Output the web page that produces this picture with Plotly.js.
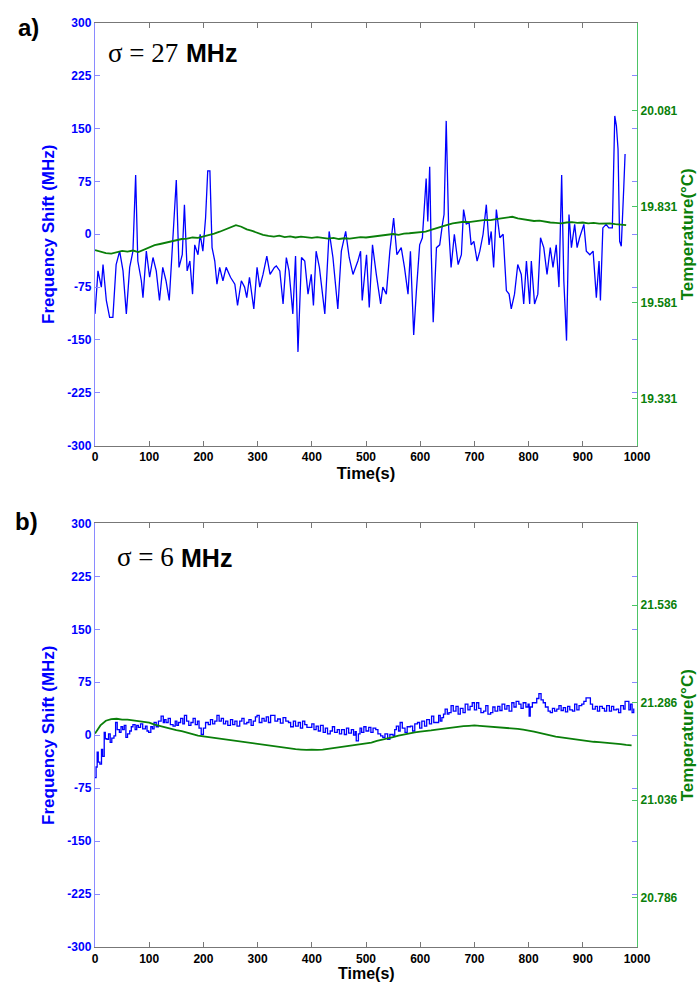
<!DOCTYPE html>
<html>
<head>
<meta charset="utf-8">
<script src="https://cdn.plot.ly/plotly-3.0.1.min.js"></script>
<style>
html,body{margin:0;padding:0;background:#fff;}
#chart{width:697px;height:982px;}
</style>
</head>
<body>
<div id="chart"></div>
<script>
// ---------- Panel a) ----------
const timeFreqA = [0,5.5,11.7,14.8,20.9,27,33,39,45.5,51.7,57.8,64,70,75,79,85.5,88.5,94.7,100.8,107,113,119,125,131,137,144,150,155,161,165,170,175,180,184,190,194,199,204,208,212,216,221,225,230,236,242,250,258,263,270,276,280,285,293,299,304,310,317,323,331,334.5,341,347,353,358,365,370,374.5,381,387,393,399,403,408,414,424,432,439,448,454.5,462.5,469,476,485,490,493,501,506,512,519,527,531,537.5,544,551,557,565,571,577.5,582,588,593,599,604,608,611,614,617.5,620.5,624,630,636,641,644,648,652.5,657,663,670,676,680,685,690,694,699,705,710,716,722,727,731,735.5,740.5,747,753,759,764,768,774,780,786.5,791,796,802,805,811,817,822,828,834,840,845,851,856,861,865,870,874.5,879,885,889.5,894,902,906.5,913,919,925,930,932.5,937,943,948,954.5,959,962,965,968,971,975.5,978];
const freqShiftA = [-113,-52,-75,-43,-94,-118,-118,-43,-24,-52,-113,-47,-24,84,-38,-66,-90,-24,-61,-33,-52,-94,-47,-66,-94,4,77,-47,-29,42,-52,-38,-85,-15,-29,0,-24,23,90,90,-19,-38,-71,-47,-66,-47,-61,-71,-101,-66,-75,-90,-61,-106,-47,-75,-57,-31,-57,-47,-45,-52,-99,-33,-52,-113,-31,-167,-33,-38,-85,-57,-101,-24,-47,-113,4,-33,-106,-24,4,-33,-57,-38,-24,-94,-29,-104,-15,-57,-99,-75,-85,-24,23,-29,-19,-47,-85,-24,-143,-80,-15,-5,46,79,18,96,-29,-125,-19,-15,14,28,161,9,-47,0,-43,-29,35,14,18,-15,-10,-38,-24,0,42,-15,4,-47,35,-5,0,-80,-85,-106,-85,-43,-57,-99,-38,-99,-38,-99,-85,-5,-19,-57,-19,-47,-15,-75,84,-66,-151,28,-19,14,-19,-5,14,-24,-29,-24,-90,-38,-94,9,14,9,9,168,154,121,-10,-17,65,114];
const timeTempA = [0,10,20,30,40,50,60,70,80,90,100,110,120,130,140,150,160,170,180,190,200,210,220,230,240,250,260,270,280,290,300,310,320,330,340,350,360,370,380,390,400,410,420,430,440,450,460,470,480,490,500,510,520,530,540,550,560,570,580,590,600,610,620,630,640,650,660,670,680,690,700,710,720,730,740,750,760,770,780,790,800,810,820,830,840,850,860,870,880,890,900,910,920,930,940,950,960,970,980];
const tempA = [19.718,19.714,19.710,19.709,19.713,19.716,19.714,19.717,19.713,19.719,19.726,19.731,19.734,19.737,19.741,19.743,19.747,19.748,19.751,19.750,19.754,19.756,19.761,19.766,19.772,19.778,19.783,19.779,19.772,19.768,19.762,19.758,19.755,19.753,19.756,19.752,19.754,19.751,19.753,19.752,19.750,19.752,19.749,19.748,19.750,19.747,19.749,19.748,19.750,19.752,19.751,19.753,19.754,19.756,19.758,19.760,19.758,19.761,19.762,19.763,19.764,19.766,19.771,19.776,19.780,19.784,19.788,19.790,19.792,19.791,19.794,19.795,19.797,19.796,19.799,19.801,19.803,19.805,19.801,19.799,19.796,19.794,19.795,19.792,19.790,19.789,19.788,19.790,19.791,19.789,19.790,19.788,19.789,19.787,19.788,19.788,19.786,19.785,19.783];
const tempTicksA = ['19.331','19.581','19.831','20.081'];

// ---------- Panel b) ----------
const timeFreqB = [0,2,4,6,9,12,14,17,19,22,25,28,31,35,38,41,45,48,51,54,57,60,64,67,70,74,77,80,84,88,93,96,99,103,106,109,113,117,122,126,128,131,135,139,144,148,151,154,158,162,165,169,173,177,181,185,189,192,196,200,204,209,213,217,221,225,229,233,237,241,245,250,254,258,262,267,271,275,280,284,288,292,296,299,303,308,312,316,320,324,328,332,337,342,347,352,357,361,366,370,375,379,383,387,391,395,400,404,408,412,416,421,425,429,434,438,442,447,451,455,460,464,468,473,477,480,482,486,489,492,496,500,505,509,513,518,522,527,531,535,540,544,550,553,556,560,563,567,572,576,582,586,590,595,599,603,608,612,617,621,625,630,634,637,640,643,646,650,653,657,661,666,670,674,679,683,688,692,696,700,704,708,712,717,721,725,730,734,738,743,747,751,756,760,764,769,773,777,782,786,790,795,799,801,803,807,811,815,819,823,827,831,836,840,844,848,852,856,860,864,868,872,876,881,885,889,893,898,902,906,910,914,918,923,927,931,936,940,944,949,953,957,962,966,970,975,978,981,985,988,991,994];
const freqShiftB = [-60,-45,-24,-38,-41,-20,-30,4,-5,-6,2,-10,-4,-1,18,8,4,12,8,14,-3,2,6,12,15,8,14,11,16,9,13,6,4,12,9,18,12,20,27,18,22,18,24,15,13,20,14,18,24,16,28,20,14,18,24,15,20,10,1,10,18,15,22,16,20,28,20,24,16,20,14,22,15,20,13,20,24,16,18,22,14,20,26,28,18,24,20,26,18,28,28,20,23,17,25,20,18,12,20,13,18,10,20,15,11,11,16,8,13,6,14,4,10,2,6,12,4,8,2,8,1,10,3,8,0,5,-8,2,10,4,12,6,11,4,10,8,2,-1,-3,2,-6,1,-1,8,13,6,18,10,4,12,13,6,16,18,10,20,13,22,16,27,18,18,28,20,25,30,37,30,32,42,34,41,30,38,32,44,36,41,46,36,46,38,32,34,42,30,32,40,34,41,35,44,37,42,34,46,40,48,44,38,46,40,44,27,40,46,46,52,59,50,46,40,34,32,38,34,37,42,35,39,33,41,36,34,44,36,42,44,48,53,53,44,37,41,34,41,38,34,42,34,41,36,37,32,42,37,48,48,36,44,32,38];
const timeTempB = [0,10,20,30,40,50,60,70,80,90,100,110,120,130,140,150,160,170,180,190,200,210,220,230,240,250,260,270,280,290,300,310,320,330,340,350,360,370,380,390,400,410,420,430,440,450,460,470,480,490,500,510,520,530,540,550,560,570,580,590,600,610,620,630,640,650,660,670,680,690,700,710,720,730,740,750,760,770,780,790,800,810,820,830,840,850,860,870,880,890,900,910,920,930,940,950,960,970,980,990];
const tempB = [21.207,21.228,21.240,21.244,21.245,21.243,21.243,21.241,21.240,21.237,21.235,21.230,21.226,21.222,21.220,21.216,21.213,21.209,21.205,21.202,21.200,21.198,21.196,21.195,21.192,21.190,21.189,21.186,21.184,21.182,21.180,21.178,21.177,21.174,21.172,21.170,21.169,21.167,21.166,21.165,21.166,21.165,21.166,21.168,21.169,21.171,21.173,21.175,21.177,21.179,21.181,21.184,21.188,21.191,21.194,21.198,21.202,21.205,21.207,21.210,21.212,21.213,21.215,21.217,21.219,21.221,21.223,21.224,21.226,21.227,21.228,21.227,21.226,21.225,21.224,21.223,21.222,21.221,21.219,21.217,21.215,21.212,21.209,21.205,21.202,21.199,21.197,21.195,21.193,21.191,21.190,21.188,21.186,21.185,21.184,21.183,21.181,21.180,21.178,21.177];
const tempTicksB = ['20.786','21.036','21.286','21.536'];

const freqTicks = ['-300','-225','-150','-75','0','75','150','225','300'];
const timeTicks = ['0','100','200','300','400','500','600','700','800','900','1000'];

const BLUE = '#0000ff', GREEN = '#0a7f0a';
const SANS = 'Liberation Sans, Arial, sans-serif';
const SERIF = 'Liberation Serif, Times New Roman, serif';
const bold = a => a.map(s => '<b>' + s + '</b>');

const traces = [
  {x: timeFreqA, y: freqShiftA, xaxis:'x', yaxis:'y', type:'scatter', mode:'lines', line:{color:BLUE, width:1.3}},
  {x: timeTempA, y: tempA, xaxis:'x', yaxis:'y2', type:'scatter', mode:'lines', line:{color:GREEN, width:1.8}},
  {x: timeFreqB, y: freqShiftB, xaxis:'x2', yaxis:'y3', type:'scatter', mode:'lines', line:{color:BLUE, width:1.3, shape:'hv'}},
  {x: timeTempB, y: tempB, xaxis:'x2', yaxis:'y4', type:'scatter', mode:'lines', line:{color:GREEN, width:1.8}}
];

function xAx(anchor, withTitle){
  const ax = {anchor:anchor, domain:[0,1], range:[0,1000], tickvals:timeTicks.map(Number), ticktext:bold(timeTicks),
    ticks:'inside', ticklen:5, tickcolor:'#777', showline:true, linecolor:'#777', linewidth:1.2,
    mirror:'ticks', showgrid:false, zeroline:false,
    tickfont:{family:SANS, size:12, color:'#000'}};
  if (withTitle) ax.title = {text:'<b>Time(s)</b>', font:{family:SANS, size:16.5, color:'#000'}, standoff:3};
  return ax;
}
function yLeft(anchor, domain){
  return {anchor:anchor, domain:domain, range:[-300,300], tickvals:freqTicks.map(Number), ticktext:bold(freqTicks),
    ticks:'inside', ticklen:5, tickcolor:'#8a8aff', showline:true, linecolor:'#8a8aff', linewidth:1.2,
    mirror:'ticks', showgrid:false, zeroline:false,
    tickfont:{family:SANS, size:12, color:BLUE},
    title:{text:'<b>Frequency Shift (MHz)</b>', font:{family:SANS, size:17, color:BLUE}, standoff:8}};
}
function yRight(anchor, over, range, ticks){
  return {anchor:anchor, overlaying:over, side:'right', range:range, tickvals:ticks.map(Number),
    ticktext:bold(ticks),
    ticks:'inside', ticklen:5, tickcolor:'#4cc466', showline:true, linecolor:'#4cc466', linewidth:1.2,
    showgrid:false, zeroline:false,
    tickfont:{family:SANS, size:12, color:GREEN},
    title:{text:'<b>Temperature(°C)</b>', font:{family:SANS, size:17, color:GREEN}, standoff:6}};
}

const layout = {
  width:697, height:982, showlegend:false,
  paper_bgcolor:'#fff', plot_bgcolor:'#fff',
  margin:{l:95, r:60, t:23, b:35},
  xaxis: xAx('y', true),
  yaxis: yLeft('x', [0.5427,1]),
  yaxis2: yRight('x', 'y', [19.2087,20.310], tempTicksA),
  xaxis2: xAx('y3', false),
  yaxis3: yLeft('x2', [0,0.4584]),
  yaxis4: yRight('x2', 'y3', [20.6598,21.7458], tempTicksB),
  annotations:[
    {xref:'paper', yref:'paper', x:0.5, y:-0.0390, xanchor:'center', yanchor:'bottom', showarrow:false,
     text:'<b>Time(s)</b>', font:{family:SANS, size:16, color:'#000'}, borderpad:0},
    {xref:'paper', yref:'paper', x:-0.1236, y:0.9946, xanchor:'center', yanchor:'middle', showarrow:false,
     text:'<b>a)</b>', font:{family:SANS, size:24, color:'#000'}},
    {xref:'paper', yref:'paper', x:-0.1273, y:0.4605, xanchor:'center', yanchor:'middle', showarrow:false,
     text:'<b>b)</b>', font:{family:SANS, size:24, color:'#000'}},
    {xref:'paper', yref:'paper', x:0.0203, y:0.9676, xanchor:'left', yanchor:'middle', showarrow:false,
     text:'σ = 27', font:{family:SERIF, size:27, color:'#000'}},
    {xref:'paper', yref:'paper', x:0.1640, y:0.9672, xanchor:'left', yanchor:'middle', showarrow:false,
     text:'<b>MHz</b>', font:{family:SANS, size:25, color:'#000'}},
    {xref:'paper', yref:'paper', x:0.0369, y:0.4216, xanchor:'left', yanchor:'middle', showarrow:false,
     text:'σ = 6', font:{family:SERIF, size:27, color:'#000'}},
    {xref:'paper', yref:'paper', x:0.1550, y:0.4212, xanchor:'left', yanchor:'middle', showarrow:false,
     text:'<b>MHz</b>', font:{family:SANS, size:25, color:'#000'}}
  ]
};

Plotly.newPlot('chart', traces, layout, {staticPlot:true, displayModeBar:false});
</script>
</body>
</html>
